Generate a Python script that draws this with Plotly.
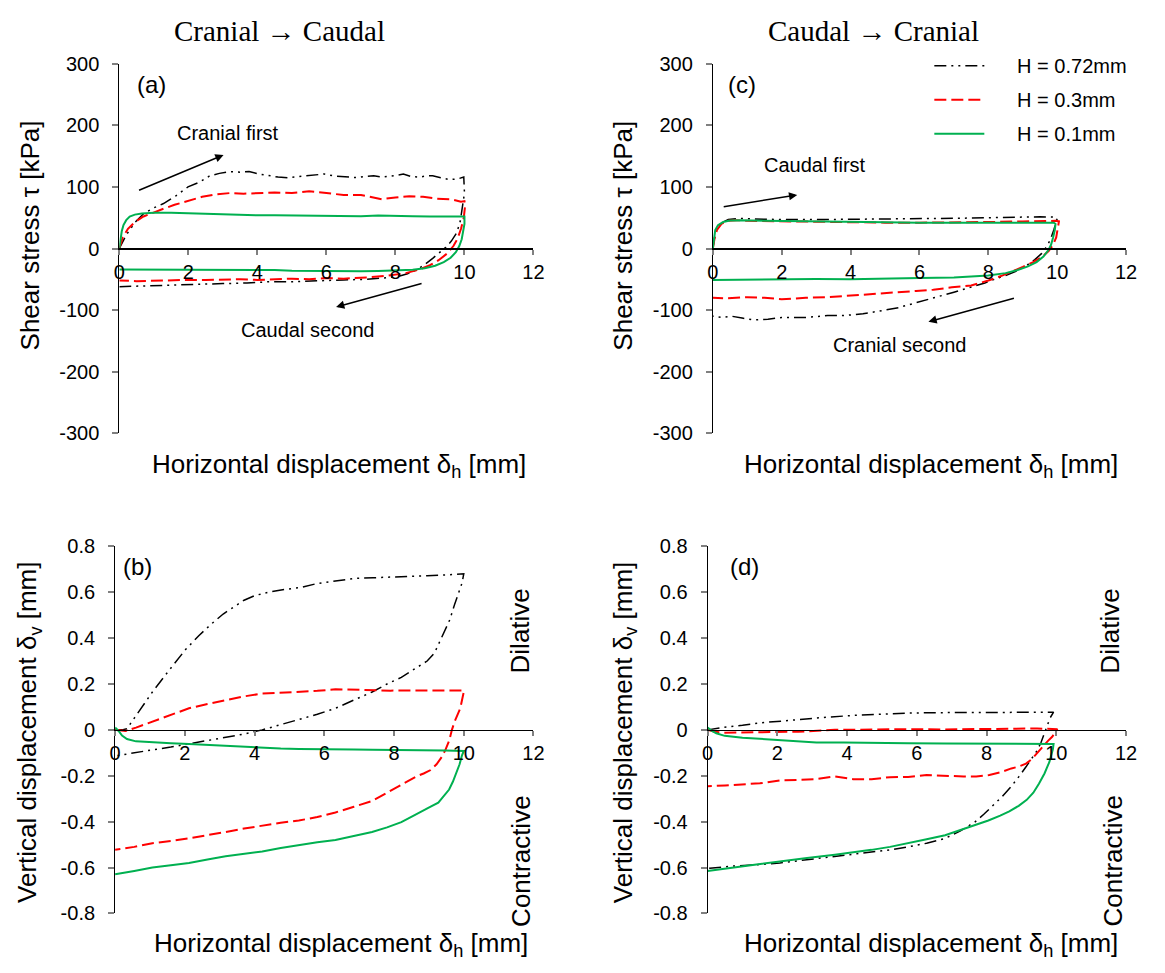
import plotly.graph_objects as go

W, H = 1165, 973

# ---- tick definitions ----
X_TICKS = [0, 2, 4, 6, 8, 10, 12]
X_TICK_TEXT = ["0", "2", "4", "6", "8", "10", "12"]
TAU_TICKS = [-300, -200, -100, 0, 100, 200, 300]
TAU_TICK_TEXT = ["-300", "-200", "-100", "0", "100", "200", "300"]
DV_TICKS = [-0.8, -0.6, -0.4, -0.2, 0, 0.2, 0.4, 0.6, 0.8]
DV_TICK_TEXT = ["-0.8", "-0.6", "-0.4", "-0.2", "0", "0.2", "0.4", "0.6", "0.8"]

SERIES_NAMES = ["H = 0.72mm", "H = 0.3mm", "H = 0.1mm"]

# ---- (a) shear stress, cranial -> caudal ----
A_X_072 = [0, 0.2, 0.45, 0.71, 1.0, 1.28, 1.65, 1.99, 2.33, 2.62, 2.9, 3.19, 3.5, 3.76, 4.05, 4.33, 4.6,
           4.9, 5.2, 5.47, 5.7, 5.94, 6.2, 6.42, 6.65, 6.9, 7.1, 7.37, 7.6, 7.85, 8.05, 8.23, 8.45, 8.7,
           8.9, 9.08, 9.3, 9.56, 9.8, 9.98, 10.0, 9.95, 9.88, 9.78, 9.62, 9.46, 9.28, 9.08, 8.85, 8.6,
           8.35, 8.1, 7.85, 7.5, 7.18, 6.5, 6.0, 5.5, 5.0, 4.33, 3.7, 3.0, 2.4, 1.8, 1.2, 0.6, 0.2, 0]
A_Y_072 = [0, 22, 42, 57, 66, 73, 86, 100, 108, 118, 122, 125, 124, 125, 121, 118, 116,
           115, 117, 118, 120, 121, 118, 117, 115, 115, 117, 118, 116, 117, 119, 121, 117, 116,
           118, 118, 115, 112, 113, 116, 90, 68, 45, 26, 12, 2, -7, -16, -26, -35,
           -41, -45, -47, -49, -50, -51, -52, -53, -54, -54, -56, -57, -58, -59, -60, -61, -62, -62]

A_X_03 = [0, 0.1, 0.25, 0.45, 0.7, 1.0, 1.3, 1.6, 2.0, 2.4, 2.8, 3.2, 3.6, 4.0, 4.5, 5.0, 5.5, 6.0,
          6.5, 7.0, 7.3, 7.6, 8.0, 8.4, 8.8, 9.2, 9.6, 9.9, 10.0, 10.02, 9.98, 9.9, 9.8, 9.68, 9.5,
          9.25, 9.0, 8.7, 8.3, 7.8, 7.2, 6.5, 6.0, 5.5, 5.0, 4.5, 4.0, 3.5, 3.0, 2.5, 2.0, 1.5, 1.0,
          0.5, 0.0]
A_Y_03 = [0, 18, 32, 43, 52, 59, 65, 71, 78, 84, 88, 90, 89, 90, 91, 90, 93, 90,
          87, 87, 84, 80, 83, 85, 84, 81, 80, 76, 77, 70, 50, 32, 16, 4, -8,
          -19, -27, -34, -40, -44, -47, -49, -48, -50, -49, -50, -51, -50, -51, -51, -51, -52, -53,
          -53, -52]

A_X_01 = [0, 0.03, 0.07, 0.12, 0.2, 0.3, 0.45, 0.65, 1.0, 1.5, 2.0, 2.5, 3.0, 3.5, 4.0, 4.5, 5.0,
          5.5, 6.0, 6.5, 7.0, 7.5, 8.0, 8.5, 9.0, 9.5, 9.9, 10.0, 10.0, 9.97, 9.92, 9.85, 9.75, 9.6,
          9.4, 9.15, 8.85, 8.5, 8.0, 7.5, 7.0, 6.5, 6.0, 5.5, 5.0, 4.5, 4.0, 3.5, 3.0, 2.5, 2.0, 1.5,
          1.0, 0.5, 0.0]
A_Y_01 = [0, 15, 28, 38, 46, 52, 55, 57, 58, 58, 57, 56.5, 56, 55, 54, 54, 53.5,
          53, 53.5, 53, 52.5, 53.5, 52.5, 52.5, 52, 51.5, 51, 52, 40, 28, 15, 4, -6, -15,
          -22, -28, -32, -34.5, -36, -36.5, -37, -37, -37, -36, -36, -35, -35, -35, -34.5, -34.5, -34, -34,
          -34.5, -34, -34]

# ---- (c) shear stress, caudal -> cranial ----
C_X_072 = [0, 0.05, 0.12, 0.25, 0.45, 0.75, 1.2, 2.0, 3.0, 4.0, 5.0, 6.0, 7.0, 8.0, 8.5, 9.0, 9.5,
           9.9, 10.0, 9.97, 9.9, 9.8, 9.68, 9.55, 9.35, 9.1, 8.8, 8.5, 8.27, 7.9, 7.45, 7.0, 6.42,
           5.9, 5.39, 4.9, 4.36, 3.8, 3.33, 2.7, 2.0, 1.6, 1.17, 0.85, 0.55, 0.25, 0.0]
C_Y_072 = [0, 18, 32, 42, 47, 49, 48, 47, 47, 47.5, 47, 48.5, 49, 50, 51, 51, 51.5,
           51, 49, 42, 30, 14, 2, -8, -18, -28, -37, -44, -48, -56, -64, -71, -80,
           -88, -96, -101, -106, -109, -109, -112, -112, -115, -116, -113, -110, -112, -110]

C_X_03 = [0, 0.05, 0.12, 0.25, 0.45, 0.7, 1.0, 2.0, 3.0, 4.0, 5.0, 6.0, 7.0, 8.0, 9.0, 9.6, 9.95,
          10.05, 10.02, 9.97, 9.88, 9.75, 9.55, 9.3, 9.0, 8.7, 8.4, 8.0, 7.5, 6.94, 6.4, 5.9, 5.4,
          4.88, 4.4, 3.85, 3.3, 2.7, 2.0, 1.5, 1.0, 0.76, 0.4, 0.0]
C_Y_03 = [0, 16, 30, 40, 45, 46, 45, 44, 43, 42.5, 42, 42, 42, 43, 44, 45, 45,
          44, 32, 18, 6, -4, -14, -22, -30, -37, -44, -52, -60, -63, -67, -69, -71,
          -73.5, -76, -77, -79, -80, -82.5, -80, -79, -80, -81, -80]

C_X_01 = [0, 0.03, 0.07, 0.15, 0.3, 0.5, 0.8, 1.5, 2.0, 3.0, 4.0, 5.0, 6.0, 7.0, 8.0, 9.0, 9.5,
          9.9, 9.95, 9.93, 9.88, 9.82, 9.75, 9.6, 9.4, 9.15, 8.85, 8.5, 8.0, 7.5, 7.0, 6.0, 5.0,
          4.0, 3.0, 2.0, 1.0, 0.5, 0.0]
C_Y_01 = [0, 18, 30, 38, 43, 45.5, 46, 45, 44.5, 43.5, 43, 42.5, 42, 42, 42, 42, 42,
          42, 40, 30, 18, 6, -2, -13, -22, -29, -35, -40, -44, -46, -47, -48, -49,
          -50, -49.5, -50, -50.5, -51, -51]

# ---- (b) vertical displacement, cranial -> caudal ----
B_X_072 = [0, 0.2, 0.34, 0.7, 1.07, 1.5, 2.02, 2.4, 2.75, 3.1, 3.4, 3.7, 4.0, 4.4, 4.85, 5.3, 5.8,
           6.3, 6.85, 7.4, 7.9, 8.4, 8.95, 9.5, 10.0, 9.95, 9.85, 9.74, 9.6, 9.42, 9.3, 9.16, 8.95,
           8.74, 8.5, 8.21, 7.8, 7.37, 6.85, 6.32, 5.8, 5.27, 4.75, 4.22, 3.7, 3.17, 2.65, 2.12, 1.6,
           1.07, 0.6, 0.12, 0.0]
B_Y_072 = [0, 0, 0.005, 0.085, 0.165, 0.25, 0.35, 0.41, 0.46, 0.505, 0.535, 0.565, 0.585, 0.6, 0.612, 0.62, 0.638,
           0.648, 0.66, 0.663, 0.665, 0.668, 0.672, 0.675, 0.68, 0.64, 0.6, 0.548, 0.48, 0.42, 0.375, 0.335, 0.3,
           0.279, 0.255, 0.229, 0.2, 0.165, 0.13, 0.094, 0.068, 0.045, 0.02, 0.0, -0.018, -0.033, -0.048, -0.062, -0.075,
           -0.087, -0.1, -0.111, -0.112]

B_X_03 = [0, 0.3, 0.6, 1.07, 1.6, 2.12, 2.65, 3.17, 3.7, 4.22, 4.75, 5.27, 5.8, 6.32, 6.85, 7.37, 7.9,
          8.42, 9.0, 9.5, 10.0, 10.0, 9.95, 9.9, 9.82, 9.74, 9.66, 9.58, 9.48, 9.37, 9.22, 9.05, 8.85,
          8.64, 8.21, 7.8, 7.37, 6.85, 6.32, 5.8, 5.27, 4.75, 4.22, 3.7, 3.17, 2.65, 2.12, 1.6, 1.07,
          0.55, 0.0]
B_Y_03 = [0, -0.005, 0.01, 0.037, 0.066, 0.094, 0.113, 0.13, 0.146, 0.158, 0.162, 0.165, 0.17, 0.177, 0.174, 0.172, 0.171,
          0.172, 0.171, 0.172, 0.172, 0.165, 0.13, 0.094, 0.065, 0.037, 0.0, -0.048, -0.085, -0.118, -0.15, -0.175, -0.19,
          -0.203, -0.239, -0.275, -0.31, -0.335, -0.36, -0.38, -0.395, -0.405, -0.416, -0.43, -0.445, -0.46, -0.473, -0.484, -0.494,
          -0.51, -0.523]

B_X_01 = [0, 0.1, 0.2, 0.34, 0.6, 1.07, 1.6, 2.12, 2.65, 3.17, 3.7, 4.22, 4.75, 5.27, 5.8, 6.32, 6.85,
          7.37, 7.9, 8.42, 8.95, 9.47, 10.0, 9.95, 9.88, 9.79, 9.69, 9.58, 9.43, 9.27, 9.05, 8.85, 8.55,
          8.21, 7.8, 7.37, 6.85, 6.32, 5.8, 5.27, 4.75, 4.22, 3.7, 3.17, 2.65, 2.12, 1.6, 1.07, 0.55, 0.0]
B_Y_01 = [0.01, -0.005, -0.025, -0.04, -0.05, -0.055, -0.058, -0.062, -0.066, -0.069, -0.074, -0.079, -0.081, -0.083, -0.083, -0.084, -0.086,
          -0.087, -0.087, -0.088, -0.089, -0.09, -0.092, -0.111, -0.15, -0.19, -0.225, -0.26, -0.29, -0.317, -0.335, -0.352, -0.375,
          -0.402, -0.425, -0.445, -0.463, -0.48, -0.49, -0.501, -0.515, -0.53, -0.54, -0.551, -0.565, -0.58, -0.59, -0.6, -0.615, -0.629]

# ---- (d) vertical displacement, caudal -> cranial ----
D_X_072 = [0, 0.4, 1.0, 1.54, 2.1, 2.6, 3.4, 4.18, 5.0, 5.76, 6.5, 7.34, 8.1, 8.92, 9.5, 9.92, 9.82,
           9.74, 9.66, 9.56, 9.45, 9.3, 9.13, 8.92, 8.71, 8.45, 8.18, 7.92, 7.66, 7.25, 6.81, 6.28, 5.75,
           5.23, 4.45, 3.65, 2.85, 2.07, 1.4, 0.7, 0.06, 0.0]
D_Y_072 = [0, 0.01, 0.02, 0.031, 0.038, 0.045, 0.055, 0.063, 0.069, 0.073, 0.075, 0.076, 0.077, 0.077, 0.078, 0.077, 0.052,
           0.017, -0.019, -0.055, -0.09, -0.125, -0.161, -0.205, -0.246, -0.29, -0.331, -0.368, -0.402, -0.44, -0.473, -0.494, -0.51,
           -0.523, -0.537, -0.551, -0.566, -0.58, -0.588, -0.594, -0.603, -0.605]

D_X_03 = [0, 0.2, 0.49, 1.0, 1.6, 2.6, 3.65, 4.7, 5.76, 6.8, 7.87, 8.7, 9.45, 10.03, 9.97, 9.88, 9.76,
          9.6, 9.45, 9.3, 9.13, 8.92, 8.71, 8.4, 8.08, 7.7, 7.34, 6.8, 6.28, 5.75, 5.23, 4.7, 4.18,
          3.65, 3.1, 2.6, 2.07, 1.5, 1.01, 0.5, 0.0]
D_Y_03 = [0, -0.008, -0.012, -0.011, -0.01, -0.008, 0.0, 0.002, 0.003, 0.002, 0.003, 0.005, 0.006, 0.003, -0.012, -0.03, -0.048,
          -0.077, -0.104, -0.127, -0.147, -0.16, -0.168, -0.185, -0.197, -0.203, -0.203, -0.2, -0.197, -0.205, -0.206, -0.215, -0.215,
          -0.203, -0.215, -0.218, -0.22, -0.233, -0.239, -0.242, -0.246]

D_X_01 = [0, 0.1, 0.25, 0.49, 1.0, 1.54, 2.3, 3.12, 3.9, 4.7, 5.75, 6.81, 7.85, 8.92, 9.5, 9.92, 9.9,
          9.87, 9.8, 9.73, 9.66, 9.5, 9.34, 9.15, 8.92, 8.65, 8.39, 8.05, 7.66, 7.25, 6.81, 6.28, 5.76,
          5.23, 4.7, 4.18, 3.65, 2.85, 2.07, 1.4, 0.7, 0.0]
D_Y_01 = [0.01, -0.002, -0.015, -0.026, -0.034, -0.04, -0.048, -0.055, -0.055, -0.055, -0.058, -0.059, -0.059, -0.06, -0.061, -0.062, -0.085,
          -0.104, -0.14, -0.165, -0.19, -0.235, -0.274, -0.305, -0.331, -0.355, -0.374, -0.395, -0.416, -0.438, -0.459, -0.477, -0.494,
          -0.51, -0.523, -0.534, -0.544, -0.558, -0.572, -0.587, -0.601, -0.615]

# ---- styling ----
SANS = "Arial, 'Liberation Sans', sans-serif"
SERIF = "'Times New Roman', 'Liberation Serif', serif"
LINE_STYLES = [
    dict(color="black", width=1.5, dash="12px,5px,2px,5px,2px,5px"),
    dict(color="#ff0000", width=2, dash="12px,5px"),
    dict(color="#00b050", width=2, dash="solid"),
]
LEGEND_PAD = "\u00a0" * 5   # gap between legend key and label


def px_x(px):
    return px / W


def px_y(py):
    return 1 - py / H


# plot areas in pixels: (left, right, top, bottom)
AREAS = {
    "a": (115, 535.3, 54, 432),
    "c": (717.3, 1136.7, 54, 432),
    "b": (110.7, 535.3, 547.7, 923.3),
    "d": (712, 1136.7, 547.7, 923.3),
}
AXIS_IDS = {"a": "", "c": "2", "b": "3", "d": "4"}

fig = go.Figure()

panel_data = {
    "a": [(A_X_072, A_Y_072), (A_X_03, A_Y_03), (A_X_01, A_Y_01)],
    "c": [(C_X_072, C_Y_072), (C_X_03, C_Y_03), (C_X_01, C_Y_01)],
    "b": [(B_X_072, B_Y_072), (B_X_03, B_Y_03), (B_X_01, B_Y_01)],
    "d": [(D_X_072, D_Y_072), (D_X_03, D_Y_03), (D_X_01, D_Y_01)],
}

for key, series in panel_data.items():
    sfx = AXIS_IDS[key]
    for i, (xs, ys) in enumerate(series):
        fig.add_trace(go.Scatter(
            x=xs, y=ys, mode="lines", line=LINE_STYLES[i],
            name=LEGEND_PAD + SERIES_NAMES[i], legendgroup=SERIES_NAMES[i],
            showlegend=(key == "c"),
            xaxis="x" + sfx, yaxis="y" + sfx,
        ))

layout = dict(
    width=W, height=H,
    margin=dict(l=0, r=0, t=0, b=0),
    paper_bgcolor="white", plot_bgcolor="white",
    font=dict(family=SANS, size=20, color="black"),
    legend=dict(
        x=px_x(937), y=px_y(36), xanchor="left", yanchor="top",
        font=dict(size=20, family=SANS), bgcolor="rgba(0,0,0,0)",
        tracegroupgap=5, itemwidth=50,
    ),
)

for key, (l, r, t, b) in AREAS.items():
    sfx = AXIS_IDS[key]
    top_row = key in ("a", "c")
    ydom = [px_y(b), px_y(t)]
    layout["xaxis" + sfx] = dict(
        domain=[px_x(l), px_x(r)], range=[0, 12],
        anchor="free", position=(ydom[0] + ydom[1]) / 2,
        showline=True, linecolor="black", linewidth=2 if top_row else 1.3,
        ticks="outside", ticklen=5, tickcolor="#808080", tickwidth=1.5,
        tickvals=X_TICKS, ticktext=X_TICK_TEXT, ticklabelstandoff=0,
        showgrid=False, zeroline=False, tickfont=dict(size=20),
    )
    layout["yaxis" + sfx] = dict(
        domain=ydom,
        range=[-300, 300] if top_row else [-0.8, 0.8],
        tickvals=TAU_TICKS if top_row else DV_TICKS,
        ticktext=TAU_TICK_TEXT if top_row else DV_TICK_TEXT,
        anchor="x" + sfx,
        showline=True, linecolor="black", linewidth=1,
        ticks="outside", ticklen=6, tickcolor="#808080", tickwidth=1.5,
        ticklabelstandoff=9,
        showgrid=False, zeroline=False, tickfont=dict(size=20),
    )

fig.update_layout(**layout)

ann = []


def paper_text(text, px, py, size=26, family=SANS, angle=0):
    ann.append(dict(text=text, x=px_x(px), y=px_y(py), xref="paper", yref="paper",
                    showarrow=False, xanchor="center", yanchor="middle",
                    textangle=angle, font=dict(size=size, family=family, color="black")))


def data_text(key, text, x, y, size=20, angle=0):
    sfx = AXIS_IDS[key]
    ann.append(dict(text=text, x=x, y=y, xref="x" + sfx, yref="y" + sfx,
                    showarrow=False, xanchor="center", yanchor="middle",
                    textangle=angle, font=dict(size=size, family=SANS, color="black")))


def data_arrow(key, x, y, ax, ay):
    sfx = AXIS_IDS[key]
    ann.append(dict(text="", x=x, y=y, xref="x" + sfx, yref="y" + sfx,
                    ax=ax, ay=ay, showarrow=True, arrowhead=2, arrowsize=1.1,
                    arrowwidth=1.5, arrowcolor="black"))


# column titles
paper_text("Cranial \u2192 Caudal", 278, 20, size=29, family=SERIF)
paper_text("Caudal \u2192 Cranial", 880, 20, size=29, family=SERIF)

# axis titles
TAU_TITLE = "Shear stress \u03c4 [kPa]"
DV_TITLE = "Vertical displacement \u03b4<sub>v</sub> [mm]"
DH_TITLE = "Horizontal displacement \u03b4<sub>h</sub> [mm]"
paper_text(TAU_TITLE, 24, 230, angle=-90)
paper_text(TAU_TITLE, 626, 230, angle=-90)
paper_text(DV_TITLE, 23, 738, angle=-90)
paper_text(DV_TITLE, 627, 738, angle=-90)
paper_text(DH_TITLE, 338, 465)
paper_text(DH_TITLE, 939, 465)
paper_text(DH_TITLE, 340, 955)
paper_text(DH_TITLE, 939, 955)

# panel letters
data_text("a", "(a)", 0.93, 267, size=24)
data_text("c", "(c)", 0.86, 267, size=24)
data_text("b", "(b)", 0.63, 0.713, size=24)
data_text("d", "(d)", 1.05, 0.713, size=24)

# loading direction notes
data_text("a", "Cranial first", 3.14, 187)
data_arrow("a", 3.02, 152, -86, 36)
data_text("a", "Caudal second", 5.45, -133)
data_arrow("a", 6.28, -95, 87, -24)
data_text("c", "Caudal first", 2.96, 136)
data_arrow("c", 2.45, 87, -75, 12)
data_text("c", "Cranial second", 5.41, -157)
data_arrow("c", 6.26, -119, 87, -24)

# dilative / contractive zones
data_text("b", "Dilative", 11.62, 0.43, size=26, angle=-90)
data_text("b", "Contractive", 11.62, -0.57, size=26, angle=-90)
data_text("d", "Dilative", 11.55, 0.43, size=26, angle=-90)
data_text("d", "Contractive", 11.62, -0.57, size=26, angle=-90)

fig.update_layout(annotations=ann)

fig.write_html("out.html")
